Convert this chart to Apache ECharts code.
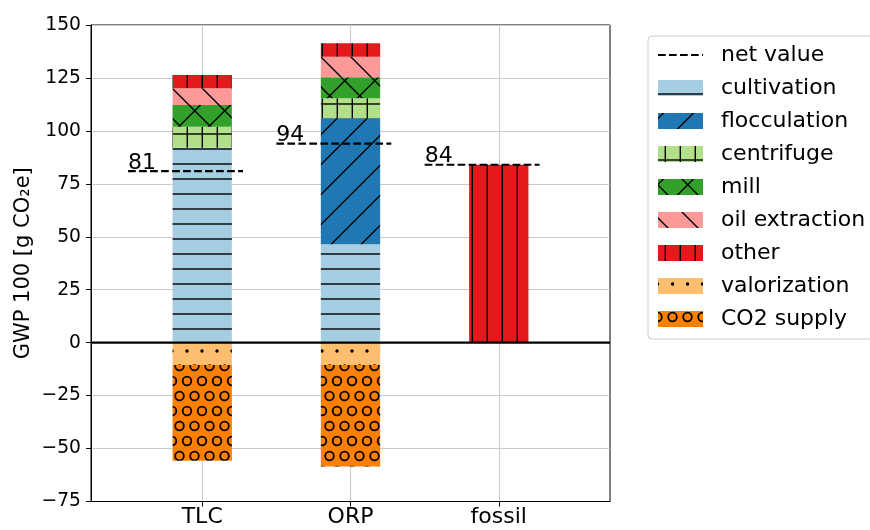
<!DOCTYPE html>
<html>
<head>
<meta charset="utf-8">
<script src="https://cdn.jsdelivr.net/npm/echarts@6/dist/echarts.min.js"></script>
<style>
  html, body { margin: 0; padding: 0; background: #fff; }
  #chart { width: 870px; height: 530px; }
</style>
</head>
<body>
<div id="chart"></div>
<script>
// Process chain contributions to GWP 100 (g CO2e) per pathway
const categories = ['TLC', 'ORP', 'fossil'];
const cultivation   = [92.0, 46.5, 0];
const flocculation  = [0, 59.5, 0];
const centrifuge    = [10.0, 9.4, 0];
const mill          = [10.2, 9.9, 0];
const oilExtraction = [7.9, 9.7, 0];
const other         = [6.3, 6.4, 84.0];
const valorization  = [-10.5, -10.5, 0];
const co2Supply     = [-45.2, -48.0, 0];
const netValue      = [81, 94, 84];
const yTicks        = { min: -75, max: 150, step: 25 };

const FONT = 'DejaVu Sans';
const FS_BIG = 22;     // category labels, legend, annotations
const FS_Y = 18.7;     // value-axis tick labels

// plot frame (px) and x range in category units
const PLOT = { left: 91, right: 610, top: 25, bottom: 501.5 };
const XR = { min: -0.75, max: 2.75 };
const unitPx = (PLOT.right - PLOT.left) / (XR.max - XR.min);

// ---- hatch fills, drawn on small repeating canvas tiles ----
function tile(w, h, bg, draw) {
  const c = document.createElement('canvas');
  c.width = w; c.height = h;
  const g = c.getContext('2d');
  g.fillStyle = bg; g.fillRect(0, 0, w, h);
  g.strokeStyle = '#000'; g.fillStyle = '#000'; g.lineWidth = 1.4;
  draw(g, w, h);
  return { image: c, repeat: 'repeat' };
}
const hLines = (g, w) => g.fillRect(0, 13.3, w, 1.4);
const vLines = (g, w, h) => g.fillRect(6.6, 0, 1.4, h);
function slashes(g) {           // '/' lines: x + y = const
  g.beginPath();
  [5.5, 35.5, 65.5].forEach(c => { g.moveTo(c + 2, -2); g.lineTo(c - 32, 32); });
  g.stroke();
}
function backslashes(g) {       // '\' lines: y - x = const
  g.beginPath();
  [-24, 6, 36].forEach(c => { g.moveTo(-2, c - 2); g.lineTo(32, c + 32); });
  g.stroke();
}
function staggered(g, fn) {
  const pts = [[7, 21], [14.5, 6]];
  for (const [x, y] of pts)
    for (const dx of [-15, 0, 15])
      for (const dy of [-30, 0, 30]) fn(x + dx, y + dy);
}
const dots = g => staggered(g, (x, y) => { g.beginPath(); g.arc(x, y, 1.7, 0, Math.PI * 2); g.fill(); });
const rings = g => { g.lineWidth = 1.8; staggered(g, (x, y) => { g.beginPath(); g.arc(x, y, 4.3, 0, Math.PI * 2); g.stroke(); }); };

const fills = {
  cultivation:   tile(15, 15, '#a6cee3', hLines),
  flocculation:  tile(30, 30, '#1f78b4', slashes),
  centrifuge:    tile(15, 15, '#b2df8a', (g, w, h) => { hLines(g, w); vLines(g, w, h); }),
  mill:          tile(30, 30, '#33a02c', g => { slashes(g); backslashes(g); }),
  oil:           tile(30, 30, '#fb9a99', backslashes),
  other:         tile(15, 15, '#e31a1c', vLines),
  valorization:  tile(15, 30, '#fdbf6f', dots),
  co2:           tile(15, 30, '#ff7f00', rings)
};

const stackDefs = [
  ['cultivation', cultivation, fills.cultivation],
  ['flocculation', flocculation, fills.flocculation],
  ['centrifuge', centrifuge, fills.centrifuge],
  ['mill', mill, fills.mill],
  ['oil extraction', oilExtraction, fills.oil],
  ['other', other, fills.other],
  ['valorization', valorization, fills.valorization],
  ['CO2 supply', co2Supply, fills.co2]
];

// stacked bars live on an inner category grid whose bands are one x unit wide
const barSeries = stackDefs.map(([name, vals, fill]) => ({
  name,
  type: 'bar',
  stack: 'total',
  xAxisIndex: 1, yAxisIndex: 1,
  barWidth: 0.4 * unitPx,
  data: vals.slice(),
  itemStyle: { color: fill, borderWidth: 0 },
  emphasis: { disabled: true },
  z: 2
}));

// dashed net-value markers, one short segment per pathway
const netSeries = netValue.map((v, i) => ({
  name: 'net value',
  type: 'line',
  symbol: 'none',
  silent: true,
  data: [[i - 0.5, v], [i + 0.275, v]],
  itemStyle: { color: '#000' },
  lineStyle: { color: '#000', width: 2.1, type: [7.7, 3.3], cap: 'butt' },
  z: 5
}));

const netLabels = {
  type: 'custom',
  silent: true,
  data: netValue.map((v, i) => [i - 0.5, v]),
  renderItem: (params, api) => {
    const p = api.coord([api.value(0), api.value(1)]);
    return {
      type: 'text',
      x: p[0], y: p[1] + 3,
      style: { text: String(api.value(1)), font: FS_BIG + 'px "' + FONT + '"',
               fill: '#000', align: 'left', verticalAlign: 'bottom' }
    };
  },
  z: 6
};

// solid zero line across the plot
const zeroLine = {
  type: 'line', silent: true, symbol: 'none',
  data: [[XR.min, 0], [XR.max, 0]],
  lineStyle: { color: '#000', width: 2.1, type: 'solid' },
  z: 7
};

const gridLine = { show: true, lineStyle: { color: '#cbcbcb', width: 1.1 } };

const chart = echarts.init(document.getElementById('chart'), null, { renderer: 'canvas' });
chart.setOption({
  animation: false,
  backgroundColor: '#fff',
  textStyle: { fontFamily: FONT },
  grid: [
    { left: PLOT.left, right: 870 - PLOT.right, top: PLOT.top, bottom: 530 - PLOT.bottom,
      show: true, borderColor: '#000', borderWidth: 1, backgroundColor: 'transparent' },
    { left: PLOT.left + (-0.5 - XR.min) * unitPx, right: 870 - PLOT.right + (XR.max - 2.5) * unitPx,
      top: PLOT.top, bottom: 530 - PLOT.bottom }
  ],
  xAxis: [
    {
      type: 'value', gridIndex: 0, min: XR.min, max: XR.max,
      axisLine: { show: true, onZero: false, lineStyle: { color: '#000', width: 1 } },
      axisTick: { show: true, length: 5, customValues: [0, 1, 2], lineStyle: { color: '#000' } },
      axisLabel: { customValues: [0, 1, 2], formatter: v => categories[Math.round(v)] ?? '',
                   color: '#000', fontSize: FS_BIG, fontFamily: FONT, margin: 5 },
      splitLine: gridLine
    },
    { type: 'category', gridIndex: 1, data: categories, show: false, boundaryGap: true }
  ],
  yAxis: [
    {
      type: 'value', gridIndex: 0, min: yTicks.min, max: yTicks.max, interval: yTicks.step,
      name: 'GWP 100 [g CO\u2082e]', nameLocation: 'middle', nameGap: 57, nameMoveOverlap: false,
      nameTextStyle: { color: '#000', fontSize: 21, fontFamily: FONT },
      axisLine: { show: true, onZero: false, lineStyle: { color: '#000', width: 1 } },
      axisTick: { show: true, length: 5, lineStyle: { color: '#000' } },
      axisLabel: { formatter: v => v < 0 ? '\u2212' + Math.abs(v) : String(v),
                   color: '#000', fontSize: FS_Y, fontFamily: FONT, margin: 10 },
      splitLine: gridLine
    },
    { type: 'value', gridIndex: 1, min: yTicks.min, max: yTicks.max, interval: yTicks.step, show: false }
  ],
  legend: {
    orient: 'vertical', left: 648, top: 36,
    padding: [8, 8, 9, 9],
    itemWidth: 45, itemHeight: 16, itemGap: 11,
    borderColor: '#cccccc', borderWidth: 1, borderRadius: 4,
    backgroundColor: 'rgba(255,255,255,0.8)',
    textStyle: { color: '#000', fontSize: FS_BIG, fontFamily: FONT, lineHeight: 22, padding: [0, 0, 0, 13] },
    selectedMode: false,
    data: [{ name: 'net value', itemStyle: { opacity: 0 } }]
      .concat(stackDefs.map(d => ({ name: d[0], icon: 'rect' })))
  },
  series: barSeries.concat(netSeries, [netLabels, zeroLine])
});
</script>
</body>
</html>
